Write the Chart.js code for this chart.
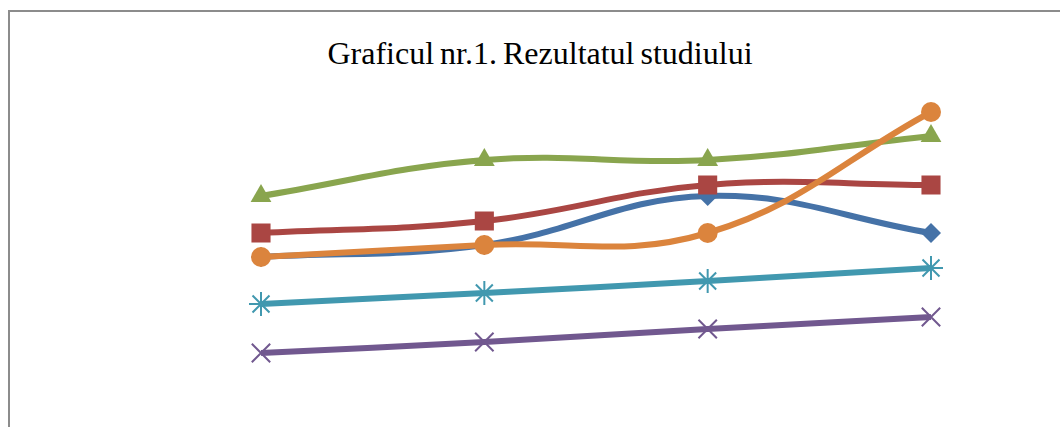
<!DOCTYPE html>
<html>
<head>
<meta charset="utf-8">
<script src="https://cdn.jsdelivr.net/npm/chart.js@4.4.0/dist/chart.umd.min.js"></script>
<style>
  html, body { margin: 0; padding: 0; width: 1060px; height: 427px; overflow: hidden; background: #fff; }
  #frame { position: absolute; left: 8px; top: 10px; width: 1100px; height: 500px; border: 2px solid #8c8c8c; box-sizing: border-box; }
  #title { position: absolute; left: 0; top: 35px; width: 1080px; text-align: center; font-family: "Liberation Serif", "Times New Roman", serif; font-size: 32px; color: #000; white-space: nowrap; word-spacing: -2px; }
  #wrap { position: absolute; left: 0; top: 0; width: 1060px; height: 427px; }
</style>
</head>
<body>
<div id="frame"></div>
<div id="title">Graficul nr.1. Rezultatul studiului</div>
<div id="wrap"><canvas id="c" width="1060" height="427"></canvas></div>
<script>
const categories = ["1", "2", "3", "4"];
const seriesBlue   = [14.3, 15.5, 20.4, 16.7];
const seriesRed    = [16.7, 17.9, 21.5, 21.5];
const seriesGreen  = [20.4, 24.0, 24.0, 26.4];
const seriesPurple = [4.7, 5.8, 7.1, 8.3];
const seriesTeal   = [9.6, 10.7, 11.9, 13.2];
const seriesOrange = [14.3, 15.5, 16.7, 28.8];

function ds(data, color, style, radius, filled, order) {
  return {
    data: data,
    order: order,
    borderColor: color,
    backgroundColor: color,
    borderWidth: 6,
    tension: 0.4,
    pointStyle: style,
    pointRadius: radius,
    pointHoverRadius: radius,
    pointBackgroundColor: filled ? color : 'rgba(0,0,0,0)',
    pointBorderColor: color,
    pointBorderWidth: filled ? 0 : 2
  };
}

new Chart(document.getElementById('c'), {
  type: 'line',
  data: {
    labels: categories,
    datasets: [
      ds(seriesBlue, '#4572A7', 'rectRot', 10, true, 6),
      ds(seriesRed, '#AA4643', 'rect', 13.5, true, 5),
      ds(seriesGreen, '#89A54E', 'triangle', 12, true, 4),
      ds(seriesPurple, '#71588F', 'crossRot', 13, false, 3),
      ds(seriesTeal, '#4198AF', 'star', 12, false, 2),
      ds(seriesOrange, '#DB843D', 'circle', 10, true, 1)
    ]
  },
  options: {
    responsive: false,
    animation: false,
    events: [],
    layout: { padding: { left: 261, right: 129, top: 100, bottom: 27 } },
    plugins: { legend: { display: false }, title: { display: false }, tooltip: { enabled: false } },
    scales: {
      x: { display: false },
      y: { display: false, min: 0, max: 30 }
    }
  }
});
</script>
</body>
</html>
